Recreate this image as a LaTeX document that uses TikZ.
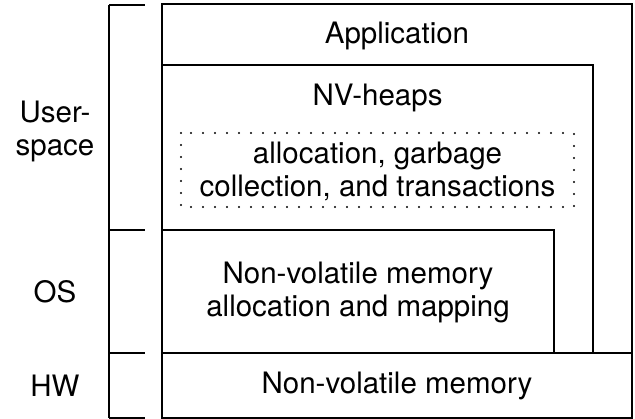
\documentclass[tikz,border=0pt]{standalone}
\usepackage{fontspec}
\setmainfont{TeX Gyre Heros}
\begin{document}
\begin{tikzpicture}[x=1pt,y=-1pt,
  layer/.style={draw=black,line width=1.6pt},
  lbl/.style={font=\fontsize{29.5}{33}\selectfont,align=center,inner sep=0pt},
  dotbox/.style={draw=black,line width=2.2pt,line cap=round,dash pattern=on 0pt off 12pt}]
\useasboundingbox (0,0) rectangle (635,419);

% stack of layers
\draw[layer] (162,4) rectangle (632,353);
\draw[layer] (162,65) rectangle (593,353);
\draw[layer] (162,230) rectangle (554,353);
\draw[layer] (162,353) rectangle (632,418);
\draw[dotbox] (181,133) rectangle (574,207);

% bracket on the left
\coordinate (b0) at (109,5);
\coordinate (b1) at (109,230);
\coordinate (b2) at (109,353);
\coordinate (b3) at (109,418);
\draw[layer] (b0) -- (b3);
\foreach \c in {b0,b1,b2,b3} \draw[layer] (\c) -- ++(36,0);

% labels
\node[lbl] (app) at (397,36) {Application};
\node[lbl] (nvh) at (377.5,98) {NV-heaps};
\node[lbl] (alloc) at (377.5,171) {allocation, garbage\\collection, and transactions};
\node[lbl] (osmem) at (358,292) {Non-volatile memory\\allocation and mapping};
\node[lbl] (hwmem) at (397,386) {Non-volatile memory};
\node[lbl] (user) at (55,131) {User-\\space};
\node[lbl] (os) at (55,292) {OS};
\node[lbl] (hw) at (55,386) {HW};
\end{tikzpicture}
\end{document}
